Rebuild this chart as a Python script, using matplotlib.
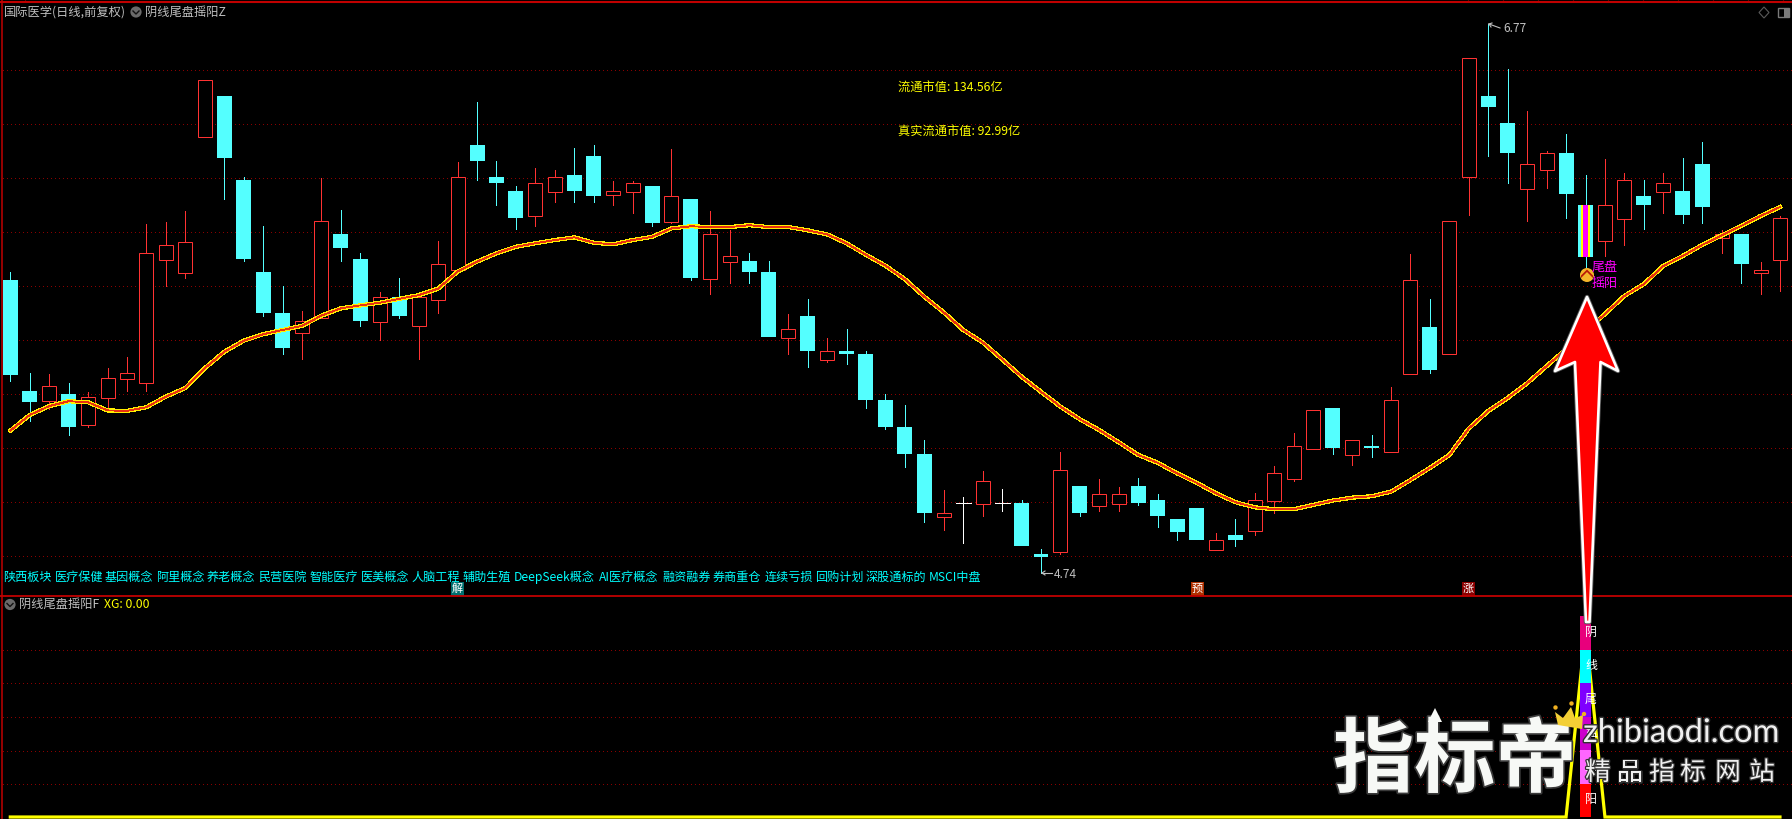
import matplotlib
matplotlib.use("Agg")
import matplotlib.pyplot as plt
from matplotlib.patches import Polygon, Circle, Rectangle
import matplotlib.patheffects as pe

plt.rcParams['font.family'] = ['Noto Sans CJK SC', 'DejaVu Sans']

kinds = ("CCRCRRRRRR" "RCCCCRRCCR" "CRRRCCCRRC" "CRRCRCRRCC" "RCRCCCCCRW"
         "RWCCRCRRCC" "CCRCRRRRCR" "CRRCRRCCRR" "CCRRCRCCRC" "RR")
highs = [5.852,5.478,5.474,5.439,5.407,5.496,5.537,6.029,6.037,6.078,
         6.562,6.503,6.203,6.022,5.800,5.707,6.199,6.081,5.922,5.778,
         5.829,5.758,5.966,6.259,6.481,6.263,6.170,6.237,6.230,6.311,
         6.322,6.189,6.189,6.170,6.306,6.122,6.078,6.007,5.922,5.892,
         5.696,5.752,5.607,5.640,5.559,5.400,5.359,5.229,5.044,5.018,
         5.115,5.048,5.007,4.826,5.185,5.059,5.085,5.055,5.089,5.029,
         4.937,4.978,4.885,4.937,5.033,5.133,5.255,5.339,5.348,5.228,
         5.248,5.426,5.918,5.752,6.039,6.643,6.770,6.603,6.448,6.300,
         6.363,6.211,6.270,6.218,6.192,6.218,6.274,6.333,6.007,5.992,
         5.889,6.059]
body_tops = [5.822,5.411,5.428,5.400,5.388,5.458,5.476,5.921,5.950,5.962,
             6.562,6.503,6.192,5.852,5.700,5.669,6.039,5.992,5.900,5.758,
             5.759,5.758,5.880,6.202,6.322,6.203,6.152,6.180,6.202,6.211,
             6.281,6.151,6.180,6.170,6.132,6.122,5.991,5.910,5.892,5.852,
             5.639,5.689,5.558,5.559,5.548,5.378,5.277,5.178,4.958,4.995,
             5.076,4.995,4.996,4.807,5.117,5.059,5.028,5.028,5.059,5.007,
             4.937,4.978,4.858,4.878,5.006,5.106,5.206,5.339,5.348,5.228,
             5.207,5.376,5.821,5.648,6.039,6.643,6.503,6.403,6.251,6.291,
             6.292,6.100,6.099,6.191,6.133,6.180,6.152,6.252,5.992,5.992,
             5.859,6.050]
body_bots = [5.470,5.370,5.375,5.277,5.286,5.386,5.456,5.439,5.897,5.849,
             6.350,6.275,5.900,5.700,5.570,5.627,5.680,5.941,5.670,5.668,
             5.689,5.651,5.748,5.858,6.263,6.181,6.052,6.060,6.149,6.152,
             6.133,6.137,6.149,6.033,6.038,5.829,5.827,5.890,5.852,5.611,
             5.608,5.559,5.527,5.548,5.378,5.277,5.178,4.959,4.945,4.995,
             4.994,4.995,4.837,4.796,4.816,4.959,4.986,4.994,4.996,4.948,
             4.889,4.859,4.823,4.859,4.893,5.005,5.086,5.197,5.200,5.175,
             5.200,5.186,5.475,5.489,5.547,6.202,6.463,6.292,6.160,6.230,
             6.140,5.908,5.968,6.049,6.100,6.149,6.063,6.092,5.978,5.881,
             5.849,5.897]
lows = [5.448,5.301,5.344,5.248,5.277,5.340,5.411,5.411,5.801,5.830,
        6.350,6.122,5.892,5.690,5.549,5.529,5.680,5.892,5.652,5.599,
        5.681,5.529,5.700,5.858,6.192,6.100,6.011,6.022,6.111,6.111,
        6.111,6.100,6.070,6.022,6.033,5.822,5.770,5.811,5.811,5.611,
        5.548,5.500,5.518,5.511,5.348,5.270,5.129,4.926,4.896,4.848,
        4.948,4.966,4.837,4.737,4.807,4.948,4.966,4.966,4.989,4.907,
        4.859,4.859,4.823,4.837,4.878,4.959,5.078,5.197,5.178,5.137,
        5.166,5.186,5.475,5.479,5.547,6.064,6.281,6.181,6.040,6.163,
        6.052,5.871,5.911,5.952,6.011,6.070,6.033,6.033,5.922,5.811,
        5.770,5.781]
ma_line = [5.264,5.322,5.355,5.373,5.369,5.339,5.337,5.351,5.390,5.422,
           5.495,5.556,5.597,5.621,5.637,5.652,5.690,5.717,5.728,5.738,
           5.752,5.766,5.790,5.853,5.890,5.921,5.945,5.958,5.970,5.980,
           5.960,5.954,5.970,5.982,6.013,6.021,6.018,6.018,6.025,6.018,
           6.018,6.006,5.991,5.958,5.915,5.875,5.825,5.760,5.702,5.637,
           5.591,5.528,5.464,5.408,5.353,5.306,5.266,5.221,5.174,5.145,
           5.106,5.071,5.032,4.999,4.980,4.973,4.973,4.989,5.005,5.016,
           5.021,5.038,5.081,5.126,5.174,5.272,5.337,5.385,5.440,5.503,
           5.566,5.633,5.696,5.763,5.807,5.874,5.911,5.952,5.987,6.022,
           6.059,6.092]
price_grid = [6.6,6.4,6.2,6.0,5.8,5.6,5.4,5.2,5.0,4.8]
signal_index = 81
xg_values = [0]*81 + [0.93] + [0]*10
xg_grid = [0.83,0.665,0.5,0.33,0.165]
stack_heights = [1/6]*6
stack_colors = ['#ff0000','#ff66ff','#cc00cc','#7f00ff','#00ffff','#e8007c']
stack_chars = ['阳','摇','盘','尾','线','阴']
concepts = ['陕西板块','医疗保健','基因概念','阿里概念','养老概念','民营医院','智能医疗','医美概念','人脑工程',
            '辅助生殖','DeepSeek概念','AI医疗概念','融资融券','券商重仓','连续亏损','回购计划','深股通标的','MSCI中盘']
concept_x = [3,55,105,156,207,258,310,361,411,463,514,599,662,713,765,815,866,929]

W, H = 1792, 819
BLACK = '#000000'; RED = '#ff3232'; CYAN = '#54ffff'; FRAME = '#c00000'; GRID = '#8a0000'; GRAY = '#c0c0c0'
X = list(range(len(kinds)))
XLIM = (-10.3/19.447, (W-10.3)/19.447)
BODY = 0.77

fig = plt.figure(figsize=(W/100, H/100), dpi=100, facecolor=BLACK)
ax = fig.add_axes([0, (H-596)/H, 1, 594/H], facecolor=BLACK)
ax2 = fig.add_axes([0, 0, 1, (H-596)/H], facecolor=BLACK)
deco = fig.add_axes([0, 0, 1, 1], facecolor='none')
deco.set_xlim(0, W); deco.set_ylim(H, 0); deco.axis('off')

ax.set_xlim(*XLIM)
ax.set_ylim(6.859-596/270, 6.859-2/270)
ax2.set_xlim(*XLIM)
ax2.set_ylim(-2/201, 221/201)
for a, g in ((ax, price_grid), (ax2, xg_grid)):
    a.set_xticks([]); a.set_yticks([])
    for s in a.spines.values():
        s.set_visible(False)
    a.hlines(g, XLIM[0]+0.15, XLIM[1], colors=GRID, linewidth=0.72,
             linestyles=[(0, (1, 4))], antialiased=False, zorder=1)

# candles
for i, k in enumerate(kinds):
    col = {'R': RED, 'C': CYAN, 'W': '#ffffff'}[k]
    ax.vlines(i, body_tops[i], highs[i], colors=col, linewidth=0.72, antialiased=False, zorder=2)
    ax.vlines(i, lows[i], body_bots[i], colors=col, linewidth=0.72, antialiased=False, zorder=2)
    h = body_tops[i]-body_bots[i]
    if k == 'C':
        ax.bar(i, h, BODY, body_bots[i], color=CYAN, linewidth=0, zorder=3)
    elif k == 'R':
        ax.bar(i, h, BODY-0.05, body_bots[i], facecolor=BLACK, edgecolor=RED, linewidth=0.72, zorder=3)
    else:
        ax.hlines(body_tops[i], i-BODY/2, i+BODY/2, colors='#ffffff', linewidth=0.72, antialiased=False, zorder=3)
s = signal_index
hs = body_tops[s]-body_bots[s]
ax.bar(s, hs, 0.48, body_bots[s], color='#ffff00', linewidth=0, zorder=4)
ax.bar(s, hs, 0.22, body_bots[s], color='#ff00ff', linewidth=0, zorder=5)

# moving average
ax.plot(X, ma_line, color='#ffee00', linewidth=2.3, zorder=6, solid_joinstyle='round', antialiased=False)
ax.plot(X, ma_line, color='#e83010', linewidth=0.6, zorder=7, antialiased=False)

# lower panel
ax2.plot(X, xg_values, color='#ffff00', linewidth=2.3, zorder=2, solid_joinstyle='miter')
bot = 0.0
for hgt, c in zip(stack_heights, stack_colors):
    ax2.bar(signal_index, hgt, 0.57, bot, color=c, linewidth=0, zorder=3)
    bot += hgt
for j, ch in enumerate(stack_chars):
    ax2.text(signal_index+0.28, (j+0.52)/6, ch, color='white', fontsize=8.6, ha='center', va='center', zorder=5)

# frames
deco.plot([0, W], [2, 2], color=FRAME, lw=1.5, solid_capstyle='butt')
deco.plot([0, W], [596, 596], color=FRAME, lw=1.3, solid_capstyle='butt')
deco.plot([1.5, 1.5], [0, H], color=FRAME, lw=1.1, solid_capstyle='butt')
deco.vlines([25]+list(range(1468, 1790, 35)), 0, 2, colors=FRAME, lw=0.8)

def T(x, y, s, c, size=8.8, ha='left', **kw):
    return deco.text(x, y, s, color=c, fontsize=size, ha=ha, va='center', **kw)

T(4, 12, '国际医学(日线,前复权)', GRAY)
T(145, 12, '阴线尾盘摇阳Z', GRAY)
T(19, 604.5, '阴线尾盘摇阳F', GRAY)
T(104, 604.5, 'XG: 0.00', '#ffff00')
for cx, cy in ((136, 12), (10, 604.5)):
    deco.add_patch(Circle((cx, cy), 5.6, color='#6a6a6a', lw=0))
    deco.plot([cx-3, cx, cx+3], [cy-1, cy+2, cy-1], color='#111111', lw=1)
T(898, 87, '流通市值: 134.56亿', '#ffff00')
T(898, 131, '真实流通市值: 92.99亿', '#ffff00')
for x, word in zip(concept_x, concepts):
    T(x, 577, word, '#00ffff', size=8.7)

for x, c, ch in ((457, '#006f6f', '解'), (1197.5, '#b03000', '预'), (1468, '#8b0000', '涨')):
    deco.add_patch(Rectangle((x-6.5, 582), 13, 14, color=c, lw=0))
    T(x, 588.5, ch, 'white', size=8, ha='center')

# high/low notes
T(1054, 575, '4.74', GRAY, size=8.6)
deco.plot([1042, 1052], [573, 573], color=GRAY, lw=0.8)
deco.plot([1042, 1045], [573, 571], color=GRAY, lw=0.8)
deco.plot([1042, 1045], [573, 575], color=GRAY, lw=0.8)
T(1503, 29, '6.77', GRAY, size=8.6)
deco.plot([1489, 1500], [24, 28], color=GRAY, lw=0.8)
deco.plot([1489, 1492], [24, 23], color=GRAY, lw=0.8)
deco.plot([1489, 1491], [24, 27], color=GRAY, lw=0.8)

# top-right icons
deco.add_patch(Polygon([(1764, 7), (1769, 12.5), (1764, 18), (1759, 12.5)], closed=True, fill=False, edgecolor='#5a5a5a', lw=0.8))
deco.add_patch(Rectangle((1778, 8), 10.5, 9, fill=False, edgecolor='#7a7a7a', lw=1))
deco.add_patch(Rectangle((1783.5, 8), 5, 9, color='#7a7a7a', lw=0))

# signal icon and text
deco.add_patch(Circle((1587, 275), 7, color='#f5b52a', lw=0))
deco.add_patch(Polygon([(1581, 278), (1587, 272), (1593, 278), (1593, 275.5), (1587, 269.5), (1581, 275.5)], color='#b81808', lw=0))
T(1592, 267.5, '尾盘', '#ff00ff', size=9.4)
T(1591.5, 283.5, '摇阳', '#ff00ff', size=9.4)

# big arrow
arrow = [(1587, 297), (1618, 371), (1600.5, 362), (1589.5, 622), (1586, 622), (1575, 362), (1555, 371)]
deco.add_patch(Polygon(arrow, closed=True, facecolor='#ff0000', edgecolor='white', lw=1.9, joinstyle='round', zorder=6,
                       path_effects=[pe.withStroke(linewidth=3.2, foreground='#555555')]))

# watermark
glow = [pe.withStroke(linewidth=2.5, foreground='#3a3a3a')]
T(1333, 762, '指标帝', '#f7f9f6', size=58.5, weight='bold', zorder=8, path_effects=glow)
deco.add_patch(Polygon([(1435, 708), (1442, 722), (1438, 722), (1438, 733), (1432, 733), (1432, 722), (1428, 722)], color='#f7f9f6', lw=0, zorder=8))
T(1583, 733, 'zhibiaodi.com', '#f0f0f0', size=23.5, family='Lato', zorder=8, path_effects=[pe.withStroke(linewidth=2, foreground='#333333')])
for x, ch in zip((1598, 1630, 1662, 1693, 1728, 1762), '精品指标网站'):
    T(x, 773, ch, '#f0f0f0', size=18.5, ha='center', zorder=8, path_effects=[pe.withStroke(linewidth=1.8, foreground='#333333')])
crown = [(1555, 712), (1563, 718), (1571, 707), (1575, 718), (1583, 715), (1582, 729), (1558, 725)]
deco.add_patch(Polygon(crown, closed=True, color='#f3cf35', lw=0, zorder=9))
for cx, cy in ((1555.5, 707.5), (1571.5, 703.5), (1584, 714)):
    deco.add_patch(Circle((cx, cy), 2.2, color='#f0b020', lw=0, zorder=9))

fig.savefig('out.png', dpi=100, facecolor=BLACK)
